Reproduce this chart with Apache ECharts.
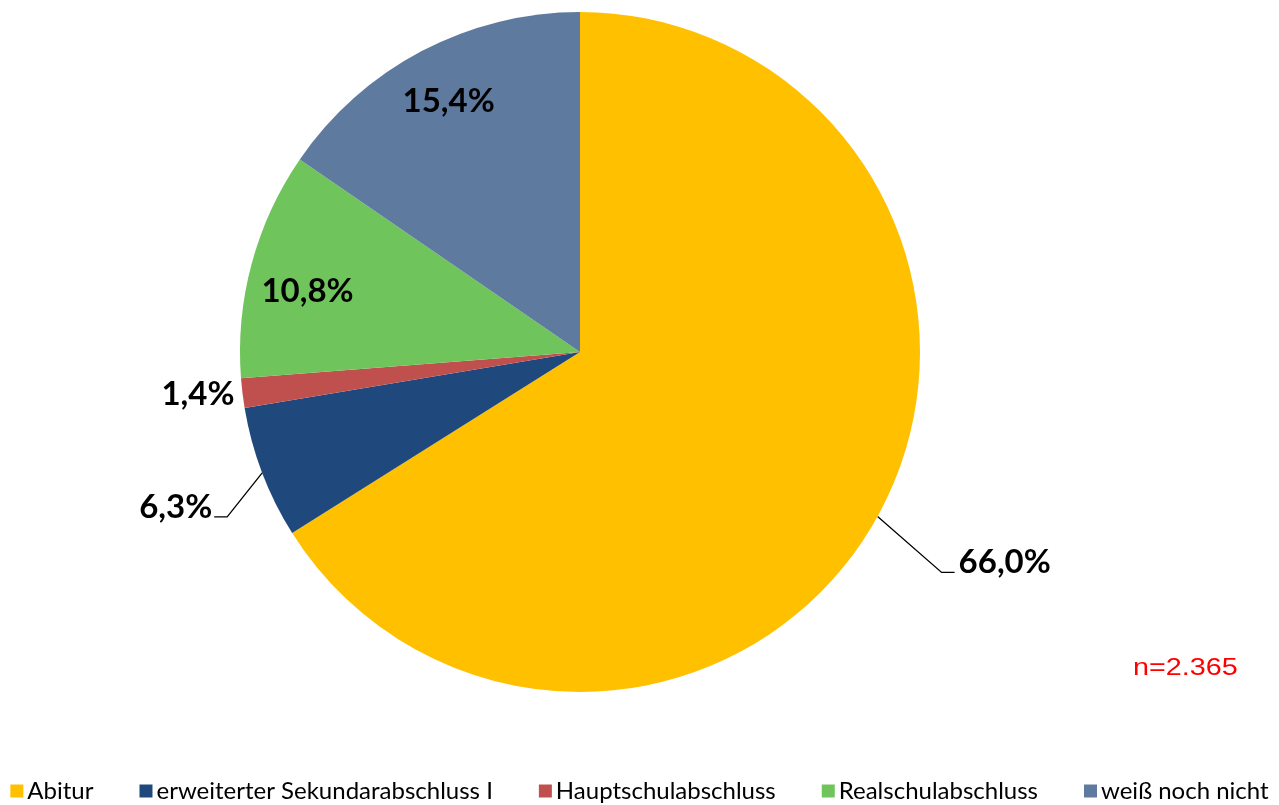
<!DOCTYPE html>
<html>
<head>
<meta charset="utf-8">
<script src="https://cdn.jsdelivr.net/npm/echarts@6/dist/echarts.min.js"></script>
<style>
html,body{margin:0;padding:0;background:#fff;}
#chart{width:1279px;height:805px;}
</style>
</head>
<body>
<div id="chart"></div>
<script>
const categories = ['Abitur', 'erweiterter Sekundarabschluss I', 'Hauptschulabschluss', 'Realschulabschluss', 'weiß noch nicht'];
const values = [66.0, 6.3, 1.4, 10.8, 15.4];
const labels = ['66,0%', '6,3%', '1,4%', '10,8%', '15,4%'];
const colors = ['#FFC000', '#1F497D', '#C0504D', '#70C45C', '#5F7A9F'];
const sampleNote = 'n=2.365';

const CX = 580, CY = 352, R = 340;
const total = values.reduce((a, b) => a + b, 0);

function midPoint(i, rf) {
  let cum = 0;
  for (let k = 0; k < i; k++) cum += values[k];
  const a = (cum + values[i] / 2) / total * 2 * Math.PI; // clockwise from top
  return [CX + Math.sin(a) * R * rf, CY - Math.cos(a) * R * rf];
}

const chart = echarts.init(document.getElementById('chart'), null, {renderer: 'canvas'});

const data = categories.map((c, i) => {
  const outside = i <= 2;
  return {
    name: c,
    value: values[i],
    itemStyle: {color: colors[i]},
    label: {show: true, position: outside ? 'outside' : 'inside'},
    labelLine: {show: i <= 1, lineStyle: {color: '#000', width: 1.3}}
  };
});

chart.setOption({
  animation: false,
  backgroundColor: '#ffffff',
  legend: {
    top: 774,
    left: 'center',
    itemWidth: 13,
    itemHeight: 13,
    itemGap: 46,
    icon: 'rect',
    textStyle: {fontFamily: 'Lato', fontSize: 24, color: '#000', padding: [0, 0, 0, -1]},
    data: categories
  },
  graphic: [{
    type: 'text',
    x: 1133,
    y: 669,
    scaleX: 1.25,
    style: {text: sampleNote, fill: '#FF0000', fontFamily: 'Liberation Sans, Arial', fontSize: 23, verticalAlign: 'middle'}
  }],
  series: [{
    type: 'pie',
    center: [CX, CY],
    radius: R,
    startAngle: 90,
    clockwise: true,
    avoidLabelOverlap: false,
    label: {
      formatter: p => labels[p.dataIndex],
      fontFamily: 'Lato',
      fontWeight: 'bold',
      fontSize: 33,
      color: '#000'
    },
    labelLine: {show: false},
    labelLayout: function (p) {
      const i = p.dataIndex;
      if (i === 0) {
        const e = midPoint(0, 1);
        const elbow = [e[0] + 64, e[1] + 56];
        return {x: elbow[0] + 17, y: elbow[1] - 10, align: 'left', verticalAlign: 'middle',
          labelLinePoints: [e, elbow, [elbow[0] + 13, elbow[1]]]};
      }
      if (i === 1) {
        const e = midPoint(1, 1);
        const elbow = [e[0] - 35, e[1] + 44];
        return {x: elbow[0] - 15, y: elbow[1] - 9, align: 'right', verticalAlign: 'middle',
          labelLinePoints: [e, elbow, [elbow[0] - 13, elbow[1]]]};
      }
      if (i === 2) {
        const e = midPoint(2, 1);
        return {x: e[0] - 8, y: e[1] + 1, align: 'right', verticalAlign: 'middle'};
      }
      const m = midPoint(i, 0.83);
      const dy = i === 3 ? 13 : -1;
      return {x: m[0], y: m[1] + dy, align: 'center', verticalAlign: 'middle'};
    },
    data: data
  }]
});
</script>
</body>
</html>
